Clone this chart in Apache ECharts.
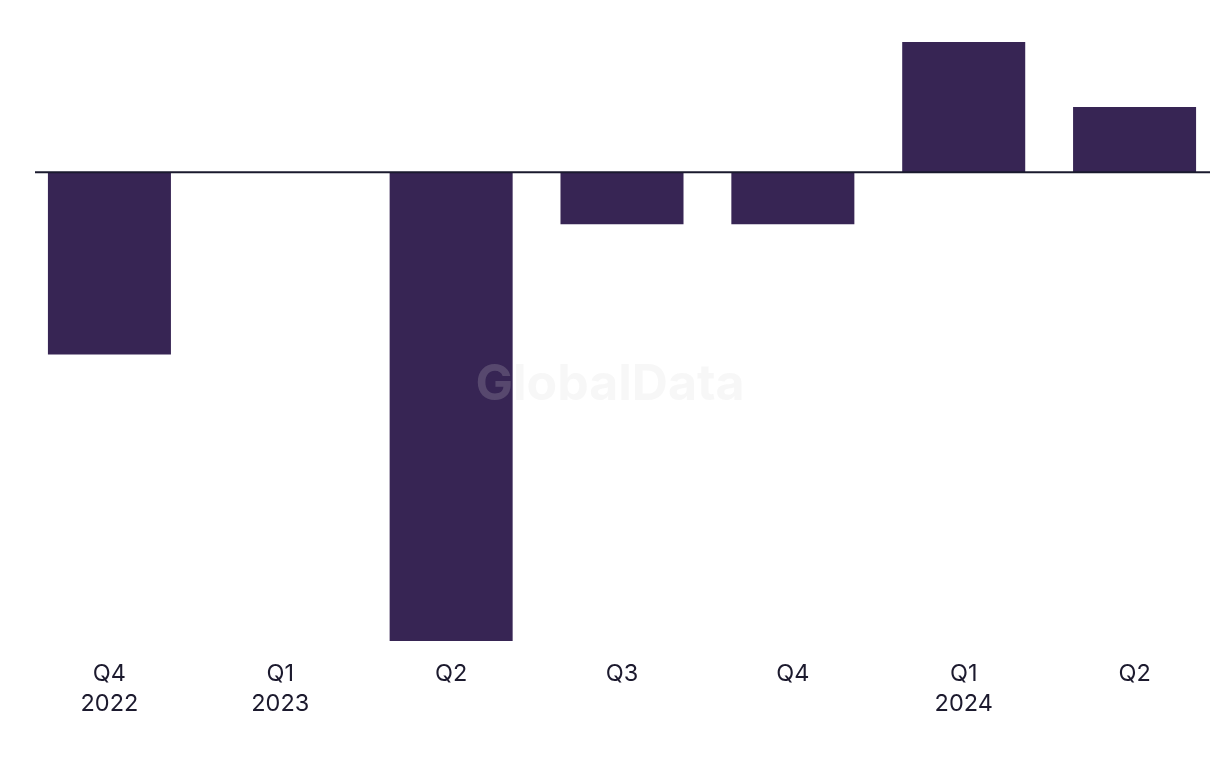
<!DOCTYPE html>
<html>
<head>
<meta charset="utf-8">
<style>html,body{margin:0;padding:0;background:#fff}#c{width:1220px;height:768px}</style>
<script src="https://cdn.jsdelivr.net/npm/echarts@6/dist/echarts.min.js"></script>
</head>
<body>
<div id="c"></div>
<script>
const categories = ['Q4\n2022', 'Q1\n2023', 'Q2', 'Q3', 'Q4', 'Q1\n2024', 'Q2'];
const values = [-14, 0, -36, -4, -4, 10, 5];
const yMin = -36, yMax = 10;

const chart = echarts.init(document.getElementById('c'), null, {renderer: 'canvas'});
const watermark = {
  type: 'text', left: 'center', top: 360, z: 100,
  style: {text: 'GlobalData', fontSize: 50, fontWeight: 'bold', fontFamily: 'Inter', fill: 'rgba(216,216,216,0.2)'}
};
chart.setOption({
  animation: false,
  backgroundColor: '#ffffff',
  grid: {left: 24, right: -4, top: 42, bottom: 127, containLabel: false},
  xAxis: {
    type: 'category',
    data: categories,
    axisLine: {show: false, onZero: false},
    axisTick: {show: false},
    splitLine: {show: false},
    axisLabel: {color: '#1c1a2e', fontSize: 23.5, lineHeight: 30, margin: 18, fontFamily: 'Inter', interval: 0}
  },
  yAxis: {
    type: 'value', min: yMin, max: yMax, show: false,
    splitLine: {show: false}
  },
  series: [{
    type: 'bar',
    data: values,
    barWidth: '72%',
    itemStyle: {color: '#372554'}
  }],
  graphic: [watermark]
});
const y0 = chart.convertToPixel({yAxisIndex: 0}, 0);
chart.setOption({
  graphic: [watermark, {
    type: 'line', z: 50,
    shape: {x1: 35, y1: y0, x2: 1210, y2: y0},
    style: {stroke: '#1a1a2e', lineWidth: 2}
  }]
});
</script>
</body>
</html>
